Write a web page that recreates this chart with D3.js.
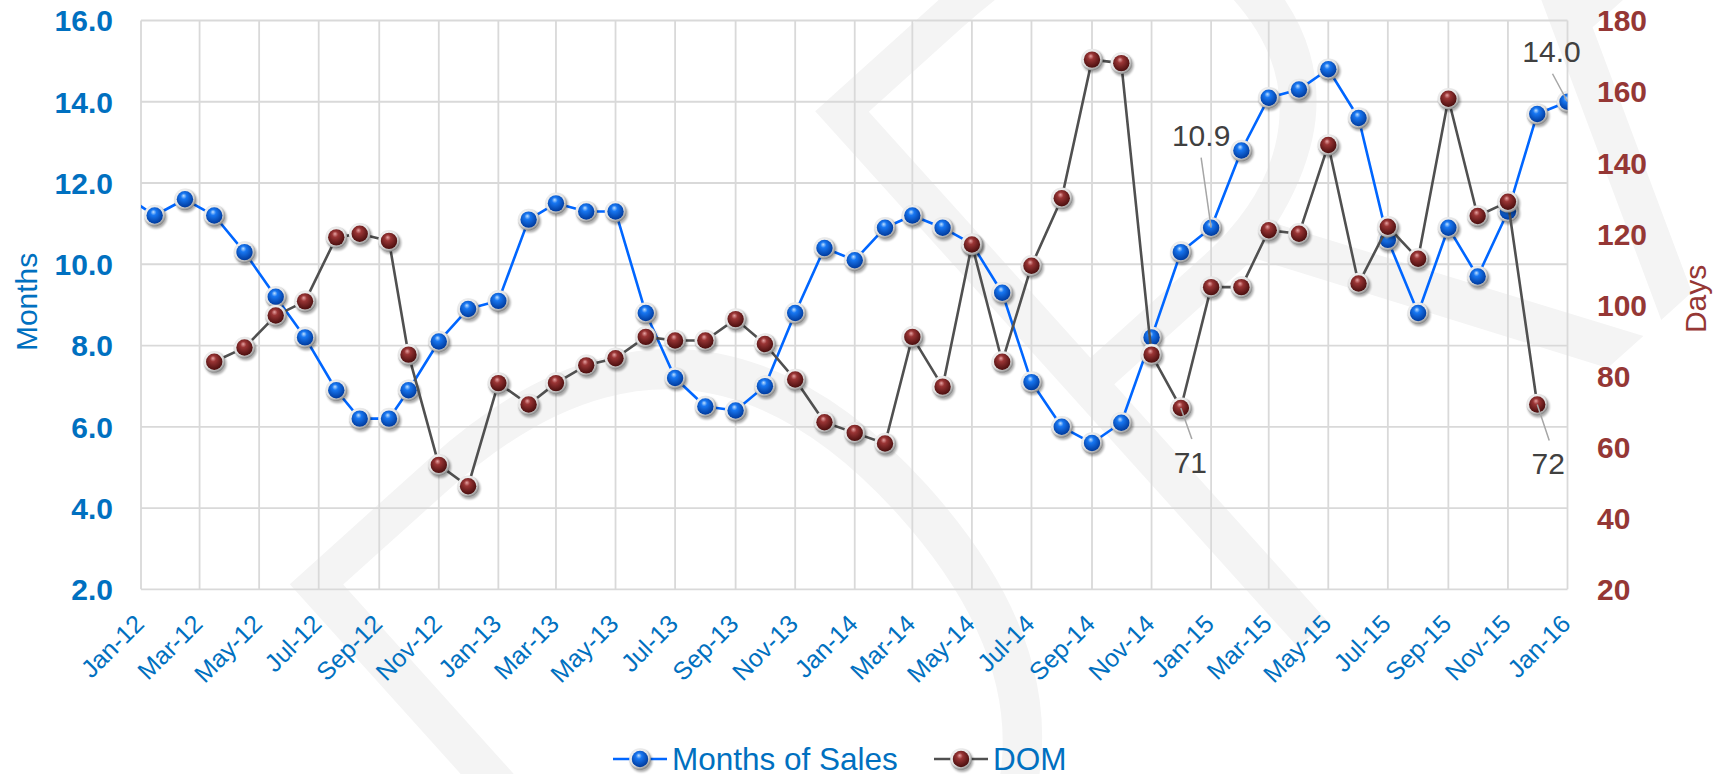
<!DOCTYPE html>
<html>
<head>
<meta charset="utf-8">
<script src="https://cdn.jsdelivr.net/npm/d3@7/dist/d3.min.js"></script>
<style>
  body { margin: 0; background: #fff; }
  svg { display: block; font-family: Arial, "Liberation Sans", sans-serif; }
</style>
</head>
<body>
<div id="chart"></div>
<script>

//--------------------------------------------------------------------------
//
// data
//

// one entry per reported month (Dec-11 sits left of the axis and gets clipped)
var pointDates = [
    "2011-12-15",
    "2012-01-15", "2012-02-15", "2012-03-16", "2012-04-16", "2012-05-18", "2012-06-17",
    "2012-07-19", "2012-08-12", "2012-09-11", "2012-10-01", "2012-11-01", "2012-12-01",
    "2013-01-01", "2013-02-01", "2013-03-01", "2013-04-01", "2013-05-01", "2013-06-01",
    "2013-07-01", "2013-08-01", "2013-09-01", "2013-10-01", "2013-11-01", "2013-12-01",
    "2014-01-01", "2014-02-01", "2014-03-01", "2014-04-01", "2014-05-01", "2014-06-01",
    "2014-07-01", "2014-08-01", "2014-09-01", "2014-10-01", "2014-11-01", "2014-12-01",
    "2015-01-01", "2015-02-01", "2015-03-01", "2015-04-01", "2015-05-01", "2015-06-01",
    "2015-07-01", "2015-08-01", "2015-09-01", "2015-10-01", "2015-11-01", "2015-12-01",
    "2016-01-01"
];

var monthsOfSales = [
    11.7,
    11.2, 11.6, 11.2, 10.3, 9.2, 8.2, 6.9, 6.2, 6.2, 6.9, 8.1, 8.9,
    9.1, 11.1, 11.5, 11.3, 11.3, 8.8, 7.2, 6.5, 6.4, 7.0, 8.8, 10.4,
    10.1, 10.9, 11.2, 10.9, 10.5, 9.3, 7.1, 6.0, 5.6, 6.1, 8.2, 10.3,
    10.9, 12.8, 14.1, 14.3, 14.8, 13.6, 10.6, 8.8, 10.9, 9.7, 11.3, 13.7,
    14.0
];

var daysOnMarket = [
    null,
    null, null, 84, 88, 97, 101, 119, 120, 118, 86, 55, 49,
    78, 72, 78, 83, 85, 91, 90, 90, 96, 89, 79, 67,
    64, 61, 91, 77, 117, 84, 111, 130, 169, 168, 86, 71,
    105, 105, 121, 120, 145, 106, 122, 113, 158, 125, 129, 72,
    null
];

var leftTicks = [2, 4, 6, 8, 10, 12, 14, 16];
var rightTicks = [20, 40, 60, 80, 100, 120, 140, 160, 180];

// points that carry a data label
var labelledPoints = [
    {series: "mos", date: "2015-01-01", text: "10.9"},
    {series: "mos", date: "2016-01-01", text: "14.0"},
    {series: "dom", date: "2014-12-01", text: "71"},
    {series: "dom", date: "2015-12-01", text: "72"}
];

var seriesNames = ["Months of Sales", "DOM"];

//--------------------------------------------------------------------------
//
// chart
//

var outerWidth = 1722,
    outerHeight = 774,
    plot = {left: 141, right: 1567.5, top: 20.5, bottom: 589.3};

var blueLine = "#0066ff",
    greyLine = "#505050",
    blueText = "#0070c0",
    redText = "#953735";

var parseDate = d3.timeParse("%Y-%m-%d");

var points = pointDates.map(function (s, i) {
    return {date: parseDate(s), mos: monthsOfSales[i], dom: daysOnMarket[i]};
});

var x = d3.scaleTime()
    .domain([parseDate("2012-01-01"), parseDate("2016-01-01")])
    .range([plot.left, plot.right]);

var yLeft = d3.scaleLinear().domain([2, 16]).range([plot.bottom, plot.top]);
var yRight = d3.scaleLinear().domain([20, 180]).range([plot.bottom, plot.top]);

var svg = d3.select("#chart").append("svg")
    .attr("width", outerWidth)
    .attr("height", outerHeight);

svg.append("rect")
    .attr("width", outerWidth)
    .attr("height", outerHeight)
    .attr("fill", "#fff");

var defs = svg.append("defs");

defs.append("clipPath")
    .attr("id", "plot-area")
    .append("rect")
    .attr("x", plot.left)
    .attr("y", plot.top - 20)
    .attr("width", plot.right - plot.left)
    .attr("height", plot.bottom - plot.top + 40);

defs.append("clipPath")
    .attr("id", "page")
    .append("rect")
    .attr("width", outerWidth)
    .attr("height", outerHeight);

function ballGradient(id, light, mid, dark) {
    var g = defs.append("radialGradient")
        .attr("id", id)
        .attr("cx", "45%").attr("cy", "40%").attr("r", "60%")
        .attr("fx", "42%").attr("fy", "28%");
    g.append("stop").attr("offset", "0%").attr("stop-color", light);
    g.append("stop").attr("offset", "30%").attr("stop-color", mid);
    g.append("stop").attr("offset", "100%").attr("stop-color", dark);
}
ballGradient("blueBall", "#bfe0ff", "#1877f2", "#003a9c");
ballGradient("redBall", "#e6a3a3", "#9a3535", "#4a0e0e");

var ring = defs.append("radialGradient")
    .attr("id", "ring")
    .attr("cx", "42%").attr("cy", "38%").attr("r", "62%");
ring.append("stop").attr("offset", "0%").attr("stop-color", "#ffffff");
ring.append("stop").attr("offset", "72%").attr("stop-color", "#e4e4e4");
ring.append("stop").attr("offset", "100%").attr("stop-color", "#8a8a8a");

defs.append("filter")
    .attr("id", "soft")
    .append("feGaussianBlur")
    .attr("stdDeviation", 1.3);

//--------------------------------------------------------------------------
//
// watermark
//

svg.append("g")
    .attr("clip-path", "url(#page)")
    .append("text")
    .attr("transform", "translate(696,1189) rotate(-42)")
    .attr("font-family", "'Noto Sans', 'DejaVu Sans', sans-serif")
    .attr("font-weight", 200)
    .attr("font-size", 1010)
    .attr("fill", "#f4f4f4")
    .text("DRAFT");

//--------------------------------------------------------------------------
//
// grid
//

var grid = svg.append("g").attr("class", "grid")
    .attr("stroke", "#d9d9d9")
    .attr("stroke-width", 1.8);

grid.selectAll("line.h")
    .data(leftTicks)
    .enter().append("line")
    .attr("x1", plot.left).attr("x2", plot.right)
    .attr("y1", function (d) { return yLeft(d); })
    .attr("y2", function (d) { return yLeft(d); });

var xTicks = x.ticks(d3.timeMonth.every(2));

grid.selectAll("line.v")
    .data(xTicks)
    .enter().append("line")
    .attr("x1", function (d) { return x(d); })
    .attr("x2", function (d) { return x(d); })
    .attr("y1", plot.top).attr("y2", plot.bottom);

//--------------------------------------------------------------------------
//
// axes labels
//

var formatMonth = d3.timeFormat("%b-%y");

svg.append("g").selectAll("text")
    .data(xTicks)
    .enter().append("text")
    .attr("transform", function (d) {
        return "translate(" + (x(d) + 4.5) + "," + (plot.bottom + 36) + ") rotate(-45)";
    })
    .attr("text-anchor", "end")
    .attr("font-size", 25)
    .attr("fill", blueText)
    .text(formatMonth);

svg.append("g").selectAll("text")
    .data(leftTicks)
    .enter().append("text")
    .attr("x", 113)
    .attr("y", function (d) { return yLeft(d); })
    .attr("dy", "0.36em")
    .attr("text-anchor", "end")
    .attr("font-size", 30)
    .attr("font-weight", "bold")
    .attr("fill", blueText)
    .text(d3.format(".1f"));

svg.append("g").selectAll("text")
    .data(rightTicks)
    .enter().append("text")
    .attr("x", 1597)
    .attr("y", function (d) { return yRight(d); })
    .attr("dy", "0.36em")
    .attr("text-anchor", "start")
    .attr("font-size", 30)
    .attr("font-weight", "bold")
    .attr("fill", redText)
    .text(function (d) { return d; });

var midY = (plot.top + plot.bottom) / 2;

svg.append("text")
    .attr("transform", "translate(37," + (midY - 3) + ") rotate(-90)")
    .attr("text-anchor", "middle")
    .attr("font-size", 30)
    .attr("fill", blueText)
    .text("Months");

svg.append("text")
    .attr("transform", "translate(1706," + (midY - 6) + ") rotate(-90)")
    .attr("text-anchor", "middle")
    .attr("font-size", 30)
    .attr("fill", redText)
    .text("Days");

//--------------------------------------------------------------------------
//
// series
//

function drawMarker(sel, ball) {
    sel.append("circle")
        .attr("cx", 1.3).attr("cy", 2).attr("r", 11)
        .attr("fill", "#000").attr("opacity", 0.32)
        .attr("filter", "url(#soft)");
    sel.append("circle").attr("r", 10.8).attr("fill", "url(#ring)");
    sel.append("circle").attr("r", 8.2).attr("fill", "url(#" + ball + ")");
}

function drawSeries(key, yScale, color, ball) {
    var g = svg.append("g").attr("clip-path", "url(#plot-area)");
    var line = d3.line()
        .defined(function (d) { return d[key] != null; })
        .x(function (d) { return x(d.date); })
        .y(function (d) { return yScale(d[key]); });

    g.append("path")
        .datum(points)
        .attr("fill", "none")
        .attr("stroke", color)
        .attr("stroke-width", 2.6)
        .attr("stroke-linejoin", "round")
        .attr("d", line);

    var shown = points.filter(function (d) {
        return d[key] != null && d.date >= x.domain()[0];
    });

    g.selectAll("g.marker")
        .data(shown)
        .enter().append("g")
        .attr("class", "marker")
        .attr("transform", function (d) {
            return "translate(" + x(d.date) + "," + yScale(d[key]) + ")";
        })
        .each(function () { drawMarker(d3.select(this), ball); });
}

drawSeries("mos", yLeft, blueLine, "blueBall");
drawSeries("dom", yRight, greyLine, "redBall");

//--------------------------------------------------------------------------
//
// data labels
//

// label placement relative to its point: text centre offset and leader end
var labelPlacement = {
    "10.9": {dx: -10, dy: -82, lx: -10, ly: -70},
    "14.0": {dx: -16, dy: -40, lx: -15, ly: -28},
    "71":   {dx: 9.5, dy: 65, lx: 11, ly: 31},
    "72":   {dx: 11, dy: 70, lx: 12, ly: 36}
};

labelledPoints.forEach(function (l) {
    var p = points.filter(function (d) { return +d.date === +parseDate(l.date); })[0];
    var px = x(p.date),
        py = l.series === "mos" ? yLeft(p.mos) : yRight(p.dom),
        pl = labelPlacement[l.text];

    svg.append("line")
        .attr("x1", px).attr("y1", py)
        .attr("x2", px + pl.lx).attr("y2", py + pl.ly)
        .attr("stroke", "#a6a6a6")
        .attr("stroke-width", 1.5);

    svg.append("text")
        .attr("x", px + pl.dx)
        .attr("y", py + pl.dy)
        .attr("text-anchor", "middle")
        .attr("font-size", 30)
        .attr("fill", "#404040")
        .text(l.text);
});

//--------------------------------------------------------------------------
//
// legend
//

var legend = svg.append("g").attr("transform", "translate(0,759)");
var legendItems = [
    {name: seriesNames[0], x0: 613, color: blueLine, ball: "blueBall"},
    {name: seriesNames[1], x0: 934, color: greyLine, ball: "redBall"}
];

legendItems.forEach(function (it) {
    legend.append("line")
        .attr("x1", it.x0).attr("x2", it.x0 + 54)
        .attr("stroke", it.color)
        .attr("stroke-width", 2.6);
    drawMarker(legend.append("g").attr("transform", "translate(" + (it.x0 + 27) + ",0)"), it.ball);
    legend.append("text")
        .attr("x", it.x0 + 59)
        .attr("dy", "0.36em")
        .attr("font-size", 31.5)
        .attr("fill", blueText)
        .text(it.name);
});

</script>
</body>
</html>
